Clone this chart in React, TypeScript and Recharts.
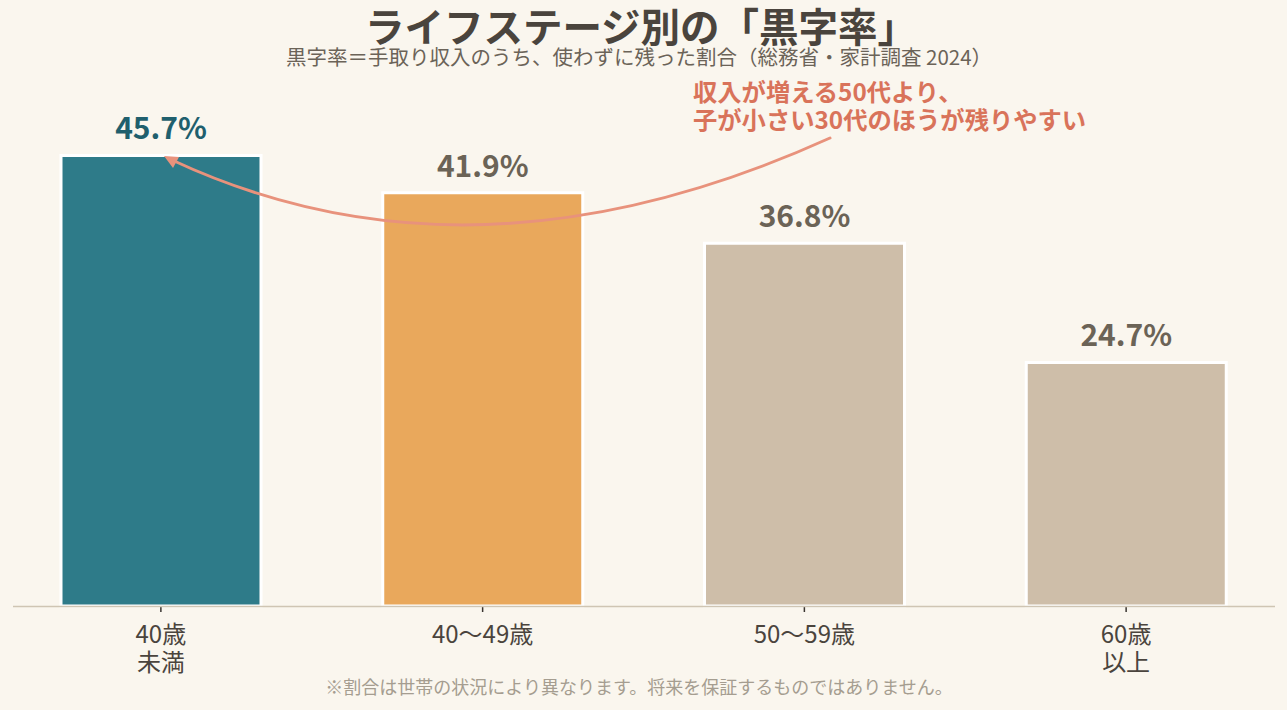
import { BarChart, Bar, XAxis, YAxis, Cell, LabelList } from 'recharts';

const categories = ['40歳\n未満', '40〜49歳', '50〜59歳', '60歳\n以上'];
const rates = [45.7, 41.9, 36.8, 24.7];
const barColors = ['#2e7b89', '#e9a85c', '#cebea9', '#cebea9'];
const labelColors = ['#1f5f6d', '#6b6356', '#6b6356', '#6b6356'];

const data = categories.map((name, i) => ({ name, rate: rates[i] }));

const FONT = '"Noto Sans CJK JP", "Noto Sans", sans-serif';

function CategoryTick(props: any) {
  const { x, y, payload } = props;
  const lines = String(payload.value).split('\n');
  return (
    <text x={x} y={y} textAnchor="middle" fill="#4a443d" fontSize={24} fontFamily={FONT}>
      {lines.map((l, i) => (
        <tspan key={i} x={x} y={y + 29 + i * 28}>
          {l}
        </tspan>
      ))}
    </text>
  );
}

function ValueLabel(props: any) {
  const { x, y, width, value, index } = props;
  return (
    <text
      x={x + width / 2}
      y={y - 16}
      textAnchor="middle"
      fill={labelColors[index]}
      fontSize={30}
      fontWeight={700}
      fontFamily={FONT}
    >
      {`${value}%`}
    </text>
  );
}

export default function App() {
  return (
    <div
      style={{
        position: 'absolute',
        left: 0,
        top: 0,
        width: 1287,
        height: 710,
        background: '#faf6ee',
        fontFamily: FONT,
        overflow: 'hidden',
      }}
    >
      <BarChart
        width={1287}
        height={710}
        data={data}
        margin={{ top: 113, right: 0, left: 0, bottom: 44 }}
        barSize={200}
      >
        <XAxis
          dataKey="name"
          axisLine={false}
          tickLine={{ stroke: '#3a3530', strokeWidth: 1.5 }}
          tickSize={6}
          height={60}
          interval={0}
          tick={<CategoryTick />}
        />
        <YAxis hide domain={[0, 50]} />
        <Bar dataKey="rate" isAnimationActive={false} stroke="#ffffff" strokeWidth={3}>
          {data.map((_, i) => (
            <Cell key={i} fill={barColors[i]} />
          ))}
          <LabelList dataKey="rate" content={<ValueLabel />} />
        </Bar>
      </BarChart>

      <svg
        width={1287}
        height={710}
        style={{ position: 'absolute', left: 0, top: 0, pointerEvents: 'none' }}
      >
        <line x1={13} x2={1275} y1={606.5} y2={606.5} stroke="#cfc5b3" strokeWidth={1.5} />
        <text
          x={641}
          y={42}
          textAnchor="middle"
          fill="#4a443d"
          fontSize={39.5}
          fontWeight={700}
          fontFamily={FONT}
        >
          ライフステージ別の「黒字率」
        </text>
        <text x={639} y={65} textAnchor="middle" fill="#6b6358" fontSize={20.5} fontFamily={FONT}>
          黒字率＝手取り収入のうち、使わずに残った割合（総務省・家計調査 2024）
        </text>
        <path
          d="M830,138 Q472,300 172,160"
          fill="none"
          stroke="#e8927c"
          strokeWidth={3}
          strokeLinecap="round"
        />
        <polygon points="164,156 179,157 173,168" fill="#e8927c" />
        <text fill="#d9735a" fontSize={24.3} fontWeight={700} fontFamily={FONT}>
          <tspan x={693} y={101}>
            収入が増える50代より、
          </tspan>
          <tspan x={693} y={129}>
            子が小さい30代のほうが残りやすい
          </tspan>
        </text>
        <text x={639} y={694} textAnchor="middle" fill="#a59d90" fontSize={18} fontFamily={FONT}>
          ※割合は世帯の状況により異なります。将来を保証するものではありません。
        </text>
      </svg>
    </div>
  );
}
